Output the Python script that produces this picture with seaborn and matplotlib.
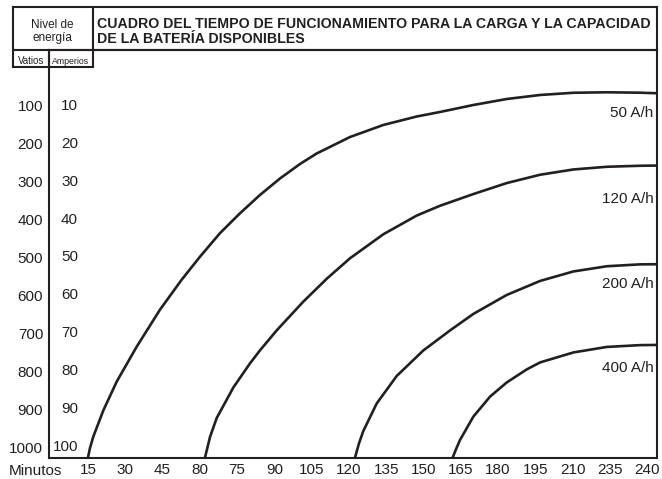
import matplotlib
matplotlib.use("Agg")
import numpy as np
import pandas as pd
import seaborn as sns
import matplotlib.pyplot as plt
from matplotlib.lines import Line2D

# ---------------- data ----------------
capacidades = ["50 A/h", "120 A/h", "200 A/h", "400 A/h"]

min_50 = [15.0, 15.80, 17.13, 21.16, 26.55, 34.60, 43.98, 52.71, 60.08, 68.08, 76.17, 84.22,
          92.27, 100.32, 107.04, 120.46, 133.85, 147.29, 156.67, 170.07, 183.51, 196.92,
          210.32, 223.76, 237.16, 244.12]
amp_50 = [102.68, 100.18, 97.20, 90.30, 82.70, 73.49, 63.74, 55.84, 49.78, 43.61, 38.35, 33.52,
          29.18, 25.36, 22.59, 18.25, 15.08, 12.85, 11.66, 9.82, 8.24, 7.18,
          6.60, 6.47, 6.58, 6.73]

min_120 = [62.09, 64.10, 66.80, 73.48, 80.20, 84.22, 90.95, 101.65, 111.07, 120.45, 133.85,
           147.29, 156.67, 170.07, 183.51, 196.92, 210.32, 223.76, 237.16, 244.12]
amp_120 = [102.68, 97.28, 92.28, 84.26, 77.89, 74.46, 69.19, 61.63, 55.60, 50.20, 43.88,
           38.95, 36.37, 33.29, 30.39, 28.20, 26.81, 26.10, 25.83, 25.78]

min_200 = [122.46, 124.07, 125.80, 131.19, 139.24, 149.95, 160.69, 170.07, 183.51, 196.92,
           210.32, 223.76, 237.16, 244.12]
amp_200 = [102.68, 98.94, 95.70, 88.45, 81.21, 74.49, 69.22, 64.87, 59.87, 56.18,
           53.68, 52.31, 51.81, 51.78]

min_400 = [161.78, 163.10, 164.72, 170.07, 176.79, 183.51, 191.56, 196.92, 210.32, 223.76,
           237.16, 244.12]
amp_400 = [102.68, 100.52, 98.07, 91.93, 86.66, 82.92, 79.49, 77.65, 75.02, 73.57,
           73.09, 73.04]

x_tick_labels = ["15", "30", "45", "80", "75", "90", "105", "120", "135", "150",
                 "165", "180", "195", "210", "235", "240"]
amperios = [10, 20, 30, 40, 50, 60, 70, 80, 90, 100]
vatios = ["100", "200", "300", "400", "500", "600", "700", "800", "900", "1000"]

titulo_1 = "CUADRO DEL TIEMPO DE FUNCIONAMIENTO PARA LA CARGA Y LA CAPACIDAD"
titulo_2 = "DE LA BATERÍA DISPONIBLES"

# ---------------- build long table ----------------
frames = []
for cap, xs, ys in zip(capacidades,
                       [min_50, min_120, min_200, min_400],
                       [amp_50, amp_120, amp_200, amp_400]):
    frames.append(pd.DataFrame({"minutos": xs, "amperios": ys, "capacidad": cap}))
df = pd.concat(frames, ignore_index=True)

# ---------------- style ----------------
sns.set_theme(style="white")
plt.rcParams["font.family"] = ["Liberation Sans", "DejaVu Sans"]
INK = "#231f20"

W, H = 662, 479
fig = plt.figure(figsize=(W / 100, H / 100), dpi=100)
fig.patch.set_facecolor("white")


def fx(px):
    return px / W


def fy(py):
    return 1 - py / H


ax_l, ax_r, ax_t, ax_b = 49, 657.3, 50, 457.5
ax = fig.add_axes([fx(ax_l), fy(ax_b), (ax_r - ax_l) / W, (ax_b - ax_t) / H])
ax.set_facecolor("white")

sns.lineplot(data=df, x="minutos", y="amperios", hue="capacidad",
             palette=[INK] * len(capacidades), legend=False, estimator=None,
             sort=False, linewidth=1.9, ax=ax)
for ln in ax.get_lines():
    ln.set_solid_joinstyle("round")

ax.set_xlim(-0.7, 244.1)
ax.set_ylim(102.7, -4.67)

ax.set_xticks(list(range(15, 241, 15)))
ax.set_xticklabels(x_tick_labels)
ax.set_yticks(amperios)
ax.set_yticklabels(vatios)
ax.set_xlabel("")
ax.set_ylabel("")
ax.tick_params(axis="both", length=0, colors=INK, labelsize=11)
ax.tick_params(axis="y", pad=4.2)
ax.tick_params(axis="x", pad=4.0)
for s in ax.spines.values():
    s.set_visible(True)
    s.set_color(INK)
    s.set_linewidth(1.5)

# amperios column inside the plot
ytr = ax.get_yaxis_transform()
for a in amperios:
    ax.text((78 - ax_l) / (ax_r - ax_l), a, str(a), transform=ytr, ha="right",
            va="center", fontsize=11, color=INK)

# curve labels
label_y = [11.9, 34.6, 57.0, 79.1]
for cap, ly in zip(capacidades, label_y):
    ax.text((653.3 - ax_l) / (ax_r - ax_l), ly, cap, transform=ytr, ha="right",
            va="center", fontsize=11, color=INK)

# header frame lines
def hline(y, x0, x1):
    fig.add_artist(Line2D([fx(x0), fx(x1)], [fy(y), fy(y)], color=INK, lw=1.5,
                          transform=fig.transFigure, solid_capstyle="projecting"))


def vline(x, y0, y1):
    fig.add_artist(Line2D([fx(x), fx(x)], [fy(y0), fy(y1)], color=INK, lw=1.5,
                          transform=fig.transFigure, solid_capstyle="projecting"))


hline(7, 12.7, 657.3)
hline(50, 12.7, 657.3)
hline(67, 12.7, 92.7)
vline(12.7, 7, 67)
vline(92.7, 7, 67)
vline(49, 50, 67)
vline(657.3, 7, 50)

# header texts
fig.text(fx(52.7), fy(27.5), "Nivel de", ha="center", va="baseline", fontsize=8.5, color=INK)
fig.text(fx(52.7), fy(41.5), "energía", ha="center", va="baseline", fontsize=8.5, color=INK)
fig.text(fx(30.8), fy(64.5), "Vatios", ha="center", va="baseline", fontsize=7, color=INK)
fig.text(fx(70.8), fy(64.5), "Amperios", ha="center", va="baseline", fontsize=6.3, color=INK)
fig.text(fx(97), fy(28.3), titulo_1, ha="left", va="baseline", fontsize=10.2,
         fontweight="bold", color=INK)
fig.text(fx(97), fy(42.7), titulo_2, ha="left", va="baseline", fontsize=10.2,
         fontweight="bold", color=INK)

# "Minutos" caption on the x tick row
fig.text(fx(9), fy(475), "Minutos", ha="left", va="baseline", fontsize=11, color=INK)

fig.savefig("out.png", dpi=100, facecolor="white")
